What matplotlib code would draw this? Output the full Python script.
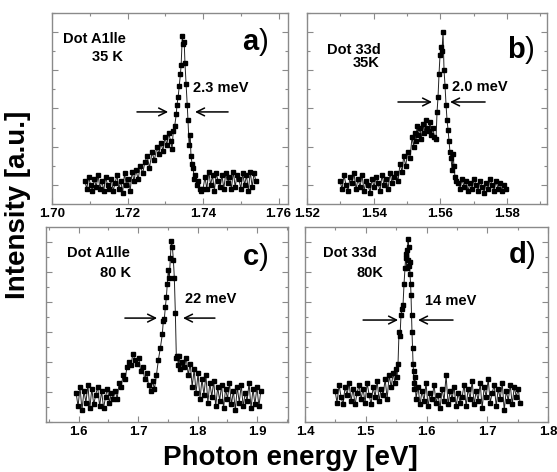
import matplotlib
matplotlib.use("Agg")
import matplotlib.pyplot as plt
from matplotlib.ticker import MultipleLocator, FormatStrFormatter

plt.rcParams['font.family'] = ['Liberation Sans', 'DejaVu Sans']
plt.rcParams['mathtext.fontset'] = 'custom'
plt.rcParams['mathtext.bf'] = 'Liberation Sans:bold'
plt.rcParams['mathtext.rm'] = 'Liberation Sans'

# ---------------- data (photon energy [eV], intensity [a.u.]) ----------------
# a) Dot A1lle, 35 K
energy_a = [1.7087, 1.7092, 1.7097, 1.7102, 1.7107, 1.7112, 1.7117, 1.7122, 1.7127, 1.7132,
            1.7137, 1.7142, 1.7147, 1.7152, 1.7157, 1.7162, 1.7167, 1.7172, 1.7177, 1.7182,
            1.7187, 1.7192, 1.7197, 1.7202, 1.7207, 1.7212, 1.7217,
            1.7222, 1.7228, 1.7234, 1.7240, 1.7246, 1.7252, 1.7258, 1.7265, 1.7271, 1.7278,
            1.7283, 1.7288, 1.7294, 1.7299, 1.7304, 1.7309, 1.7314, 1.7318, 1.7321, 1.7325,
            1.7329, 1.7331, 1.7334, 1.7337, 1.7340, 1.7342, 1.7345, 1.7347, 1.7350, 1.7352,
            1.7355, 1.7358, 1.7360, 1.7363, 1.7366, 1.7368, 1.7371, 1.7374, 1.7376, 1.7379,
            1.7383, 1.7387, 1.7391,
            1.7395, 1.7400, 1.7405, 1.7410, 1.7415, 1.7420, 1.7425, 1.7430, 1.7435, 1.7440,
            1.7445, 1.7450, 1.7455, 1.7460, 1.7465, 1.7470, 1.7475, 1.7480, 1.7485, 1.7490,
            1.7495, 1.7500, 1.7505, 1.7510, 1.7515, 1.7520, 1.7525, 1.7530, 1.7535, 1.7540]
intensity_a = [0.12, 0.08, 0.14, 0.10, 0.07, 0.13, 0.09, 0.15, 0.08, 0.12,
               0.07, 0.14, 0.10, 0.08, 0.13, 0.07, 0.11, 0.15, 0.08, 0.12,
               0.06, 0.16, 0.10, 0.13, 0.07, 0.17, 0.12,
               0.18, 0.13, 0.20, 0.16, 0.22, 0.25, 0.19, 0.27, 0.23, 0.30,
               0.26, 0.32, 0.28, 0.35, 0.31, 0.37, 0.33, 0.29, 0.38, 0.41,
               0.47, 0.52, 0.56, 0.62, 0.68, 0.73, 0.88, 0.84, 0.85, 0.74,
               0.63, 0.52, 0.44, 0.31, 0.36, 0.25, 0.21, 0.19, 0.13, 0.15,
               0.10, 0.12, 0.08,
               0.07, 0.08, 0.14, 0.08, 0.17, 0.10, 0.15, 0.07, 0.16, 0.12,
               0.09, 0.15, 0.08, 0.16, 0.11, 0.14, 0.08, 0.17, 0.09, 0.15,
               0.13, 0.08, 0.16, 0.10, 0.15, 0.07, 0.17, 0.09, 0.16, 0.12]

# b) Dot 33d, 35K
energy_b = [1.5299, 1.5305, 1.5311, 1.5317, 1.5323, 1.5329, 1.5335, 1.5341, 1.5347, 1.5353,
            1.5359, 1.5365, 1.5371, 1.5377, 1.5383, 1.5389, 1.5395, 1.5401, 1.5407, 1.5413,
            1.5419, 1.5425, 1.5431, 1.5437, 1.5443, 1.5449, 1.5455, 1.5461,
            1.5467, 1.5473, 1.5479, 1.5485, 1.5490, 1.5496, 1.5502, 1.5509, 1.5515, 1.5520,
            1.5524, 1.5527, 1.5530, 1.5534, 1.5539, 1.5543, 1.5548, 1.5552, 1.5556, 1.5560,
            1.5565, 1.5569, 1.5573, 1.5578, 1.5582, 1.5587, 1.5590, 1.5593, 1.5596, 1.5599,
            1.5602, 1.5605, 1.5608, 1.5611, 1.5614, 1.5617, 1.5620, 1.5623, 1.5626, 1.5629,
            1.5632, 1.5635, 1.5638, 1.5641, 1.5644, 1.5647,
            1.5653, 1.5659, 1.5665, 1.5671, 1.5677, 1.5683, 1.5689, 1.5695, 1.5701, 1.5707,
            1.5713, 1.5719, 1.5725, 1.5731, 1.5737, 1.5743, 1.5749, 1.5755, 1.5761, 1.5767,
            1.5773, 1.5779, 1.5785, 1.5791, 1.5797]
intensity_b = [0.12, 0.08, 0.15, 0.10, 0.07, 0.14, 0.11, 0.16, 0.08, 0.13,
               0.09, 0.15, 0.07, 0.12, 0.10, 0.06, 0.13, 0.09, 0.14, 0.11,
               0.07, 0.15, 0.10, 0.13, 0.08, 0.16, 0.11, 0.14,
               0.16, 0.12, 0.21, 0.17, 0.25, 0.20, 0.27, 0.24, 0.35, 0.30,
               0.37, 0.33, 0.41, 0.36, 0.40, 0.34, 0.42, 0.37, 0.44, 0.40,
               0.38, 0.43, 0.36, 0.40, 0.35, 0.34, 0.48, 0.56, 0.68, 0.78,
               0.82, 0.80, 0.90, 0.70, 0.62, 0.52, 0.44, 0.39, 0.33, 0.27,
               0.24, 0.18, 0.26, 0.20, 0.14, 0.12,
               0.11, 0.08, 0.13, 0.09, 0.12, 0.07, 0.11, 0.08, 0.13, 0.10,
               0.07, 0.12, 0.09, 0.06, 0.11, 0.08, 0.13, 0.10, 0.07, 0.12,
               0.08, 0.11, 0.07, 0.10, 0.08]

# c) Dot A1lle, 80 K
energy_c = [1.5956, 1.5989, 1.6022, 1.6055, 1.6088, 1.6121, 1.6154, 1.6187, 1.6220, 1.6253,
            1.6286, 1.6319, 1.6352, 1.6385, 1.6418, 1.6451, 1.6484, 1.6517, 1.6550, 1.6583,
            1.6614, 1.6647, 1.6680, 1.6713, 1.6746, 1.6779, 1.6812, 1.6845, 1.6878, 1.6911,
            1.6944, 1.6977, 1.7010, 1.7043, 1.7076, 1.7109, 1.7142, 1.7175, 1.7208, 1.7241,
            1.7274, 1.7307, 1.7340, 1.7373, 1.7406, 1.7423, 1.7440, 1.7457, 1.7474, 1.7490,
            1.7507, 1.7524, 1.7541, 1.7558, 1.7575, 1.7592, 1.7608, 1.7625, 1.7642, 1.7659,
            1.7676, 1.7693, 1.7710, 1.7743,
            1.7776, 1.7809, 1.7842, 1.7875, 1.7908, 1.7941, 1.7974, 1.8007, 1.8040, 1.8073,
            1.8106, 1.8139, 1.8172, 1.8205, 1.8238, 1.8271, 1.8304, 1.8337, 1.8370, 1.8403,
            1.8436, 1.8469, 1.8502, 1.8535, 1.8568, 1.8601, 1.8634, 1.8667, 1.8700, 1.8733,
            1.8766, 1.8799, 1.8832, 1.8865, 1.8898, 1.8931, 1.8964, 1.8997, 1.9030, 1.9063]
intensity_c = [0.15, 0.08, 0.18, 0.06, 0.16, 0.10, 0.19, 0.07, 0.17, 0.09,
               0.14, 0.18, 0.08, 0.16, 0.07, 0.13, 0.17, 0.10, 0.15, 0.12,
               0.16, 0.12, 0.20, 0.18, 0.24, 0.22, 0.28, 0.31, 0.29, 0.35,
               0.32, 0.30, 0.33, 0.26, 0.28, 0.22, 0.25, 0.19, 0.16, 0.21,
               0.17, 0.24, 0.32, 0.38, 0.45, 0.52, 0.53, 0.59, 0.64, 0.71,
               0.78, 0.74, 0.84, 0.93, 0.90, 0.83, 0.74, 0.56, 0.33, 0.34,
               0.29, 0.34, 0.27, 0.31,
               0.28, 0.33, 0.24, 0.30, 0.18, 0.27, 0.15, 0.25, 0.12, 0.22,
               0.14, 0.24, 0.10, 0.20, 0.13, 0.21, 0.08, 0.18, 0.11, 0.19,
               0.07, 0.17, 0.12, 0.20, 0.09, 0.16, 0.06, 0.18, 0.10, 0.19,
               0.08, 0.15, 0.11, 0.20, 0.07, 0.17, 0.09, 0.18, 0.08, 0.16]

# d) Dot 33d, 80K
energy_d = [1.4494, 1.4527, 1.4560, 1.4593, 1.4626, 1.4659, 1.4692, 1.4725, 1.4758, 1.4791,
            1.4824, 1.4857, 1.4890, 1.4923, 1.4956, 1.4989, 1.5022, 1.5055, 1.5088, 1.5121,
            1.5154, 1.5187, 1.5220, 1.5253, 1.5286, 1.5319, 1.5352, 1.5385, 1.5418, 1.5451,
            1.5480, 1.5497, 1.5514, 1.5531, 1.5547, 1.5564, 1.5580, 1.5597, 1.5613, 1.5630,
            1.5646, 1.5655, 1.5663, 1.5671, 1.5679, 1.5687, 1.5695, 1.5704, 1.5712, 1.5720,
            1.5728, 1.5737, 1.5745, 1.5753, 1.5761, 1.5770, 1.5778, 1.5786, 1.5794, 1.5802,
            1.5811,
            1.5827, 1.5860, 1.5893, 1.5926, 1.5959, 1.5992, 1.6025, 1.6058, 1.6091, 1.6124,
            1.6157, 1.6190, 1.6223, 1.6256, 1.6289, 1.6322, 1.6355, 1.6388, 1.6421, 1.6454,
            1.6487, 1.6520, 1.6553, 1.6586, 1.6619, 1.6652, 1.6685, 1.6718, 1.6751, 1.6784,
            1.6817, 1.6850, 1.6883, 1.6916, 1.6949, 1.6982, 1.7015, 1.7048, 1.7081, 1.7114,
            1.7147, 1.7180, 1.7213, 1.7246, 1.7279, 1.7312, 1.7345, 1.7378, 1.7411, 1.7444,
            1.7477, 1.7510, 1.7539]
intensity_d = [0.16, 0.10, 0.19, 0.13, 0.09, 0.18, 0.14, 0.20, 0.11, 0.17,
               0.09, 0.15, 0.19, 0.12, 0.17, 0.10, 0.20, 0.14, 0.09, 0.18,
               0.13, 0.21, 0.11, 0.17, 0.14, 0.22, 0.12, 0.24, 0.18, 0.25,
               0.20, 0.27, 0.23, 0.30, 0.46, 0.44, 0.55, 0.58, 0.60, 0.71,
               0.79, 0.84, 0.86, 0.79, 0.88, 0.83, 0.94, 0.90, 0.80, 0.82,
               0.76, 0.71, 0.65, 0.55, 0.46, 0.38, 0.30, 0.26, 0.20, 0.17,
               0.23,
               0.12, 0.18, 0.09, 0.16, 0.11, 0.20, 0.08, 0.15, 0.12, 0.19,
               0.10, 0.14, 0.07, 0.17, 0.11, 0.24, 0.09, 0.16, 0.12, 0.18,
               0.08, 0.15, 0.10, 0.13, 0.19, 0.08, 0.17, 0.12, 0.21, 0.09,
               0.16, 0.11, 0.20, 0.07, 0.18, 0.13, 0.22, 0.10, 0.15, 0.19,
               0.08, 0.17, 0.12, 0.20, 0.06, 0.16, 0.11, 0.19, 0.09, 0.18,
               0.13, 0.17, 0.10]

dot_names = ["Dot A1lle", "Dot 33d", "Dot A1lle", "Dot 33d"]
temperatures = ["35 K", "35K", "80 K", "80K"]
fwhm_labels = ["2.3 meV", "2.0 meV", "22 meV", "14 meV"]
panel_letters = ["a", "b", "c", "d"]

# ---------------- layout ----------------
fig = plt.figure(figsize=(5.57, 4.72), dpi=100)

panels = [
    dict(rect=[0.0934, 0.5678, 0.4237, 0.4047], x=energy_a, y=intensity_a,
         xlim=(1.70, 1.7625), major=0.02, minor=0.01, fmt="%.2f", yt=0.2, yoff=0.1,
         name=(0.047, 0.864), temp=(0.169, 0.770, 'left'), letter=(0.805, 0.848),
         fw=(0.597, 0.607), arr_y=0.482, arr_l=(0.360, 0.492), arr_r=(0.746, 0.606)),
    dict(rect=[0.5512, 0.5678, 0.4309, 0.4047], x=energy_b, y=intensity_b,
         xlim=(1.52, 1.592), major=0.02, minor=0.01, fmt="%.2f", yt=0.2, yoff=0.1,
         name=(0.083, 0.806), temp=(0.304, 0.738, 'right'), letter=(0.833, 0.806),
         fw=(0.604, 0.613), arr_y=0.534, arr_l=(0.379, 0.521), arr_r=(0.742, 0.596)),
    dict(rect=[0.0826, 0.1059, 0.4345, 0.4131], x=energy_c, y=intensity_c,
         xlim=(1.545, 1.952), major=0.1, minor=0.05, fmt="%.1f", yt=0.154, yoff=0.0,
         name=(0.087, 0.867), temp=(0.223, 0.764, 'left'), letter=(0.810, 0.846),
         fw=(0.574, 0.631), arr_y=0.533, arr_l=(0.326, 0.459), arr_r=(0.698, 0.566)),
    dict(rect=[0.5476, 0.1059, 0.4363, 0.4131], x=energy_d, y=intensity_d,
         xlim=(1.40, 1.80), major=0.1, minor=0.05, fmt="%.1f", yt=0.154, yoff=0.0,
         name=(0.074, 0.867), temp=(0.321, 0.764, 'right'), letter=(0.835, 0.856),
         fw=(0.494, 0.621), arr_y=0.523, arr_l=(0.239, 0.383), arr_r=(0.609, 0.465)),
]

spine_col = "#8a8a8a"
for i, p in enumerate(panels):
    ax = fig.add_axes(p["rect"])
    ax.plot(p["x"], p["y"], color="#222222", lw=0.7, marker="s", ms=2.6,
            mfc="black", mec="black")
    ax.set_xlim(*p["xlim"])
    ax.set_ylim(0, 1)
    ax.xaxis.set_major_locator(MultipleLocator(p["major"]))
    ax.xaxis.set_minor_locator(MultipleLocator(p["minor"]))
    ax.xaxis.set_major_formatter(FormatStrFormatter(p["fmt"]))
    ax.yaxis.set_major_locator(MultipleLocator(p["yt"], offset=p["yoff"]))
    ax.yaxis.set_minor_locator(MultipleLocator(p["yt"] / 2, offset=p["yoff"]))
    ax.set_yticklabels([])
    ax.tick_params(which="both", direction="in", top=True, right=True,
                   color=spine_col, width=0.8)
    ax.tick_params(which="major", length=4)
    ax.tick_params(which="minor", length=2.5)
    ax.tick_params(axis="x", labelsize=9.5, pad=3)
    for lab in ax.get_xticklabels():
        lab.set_fontweight("bold")
    for s in ax.spines.values():
        s.set_color(spine_col)
        s.set_linewidth(1.0)

    ax.text(p["name"][0], p["name"][1], dot_names[i], transform=ax.transAxes,
            ha="left", va="center", fontsize=10.5, fontweight="bold")
    ax.text(p["temp"][0], p["temp"][1], temperatures[i], transform=ax.transAxes,
            ha=p["temp"][2], va="center", fontsize=10.5, fontweight="bold")
    ax.text(p["letter"][0], p["letter"][1], r"$\mathbf{%s}$)" % panel_letters[i],
            transform=ax.transAxes, ha="left", va="center", fontsize=21)
    ax.text(p["fw"][0], p["fw"][1], fwhm_labels[i], transform=ax.transAxes,
            ha="left", va="center", fontsize=10.5, fontweight="bold")
    arrow = dict(arrowstyle="->", lw=1.1, color="black", mutation_scale=14,
                 shrinkA=0, shrinkB=0)
    ax.annotate("", xy=(p["arr_l"][1], p["arr_y"]), xytext=(p["arr_l"][0], p["arr_y"]),
                xycoords="axes fraction", textcoords="axes fraction", arrowprops=arrow)
    ax.annotate("", xy=(p["arr_r"][1], p["arr_y"]), xytext=(p["arr_r"][0], p["arr_y"]),
                xycoords="axes fraction", textcoords="axes fraction", arrowprops=arrow)

fig.text(0.521, 0.014, "Photon energy [eV]", ha="center", va="baseline",
         fontsize=20, fontweight="bold")
fig.text(0.033, 0.565, "Intensity [a.u.]", ha="center", va="center", rotation=90,
         fontsize=20, fontweight="bold")

fig.savefig("out.png", dpi=100)
